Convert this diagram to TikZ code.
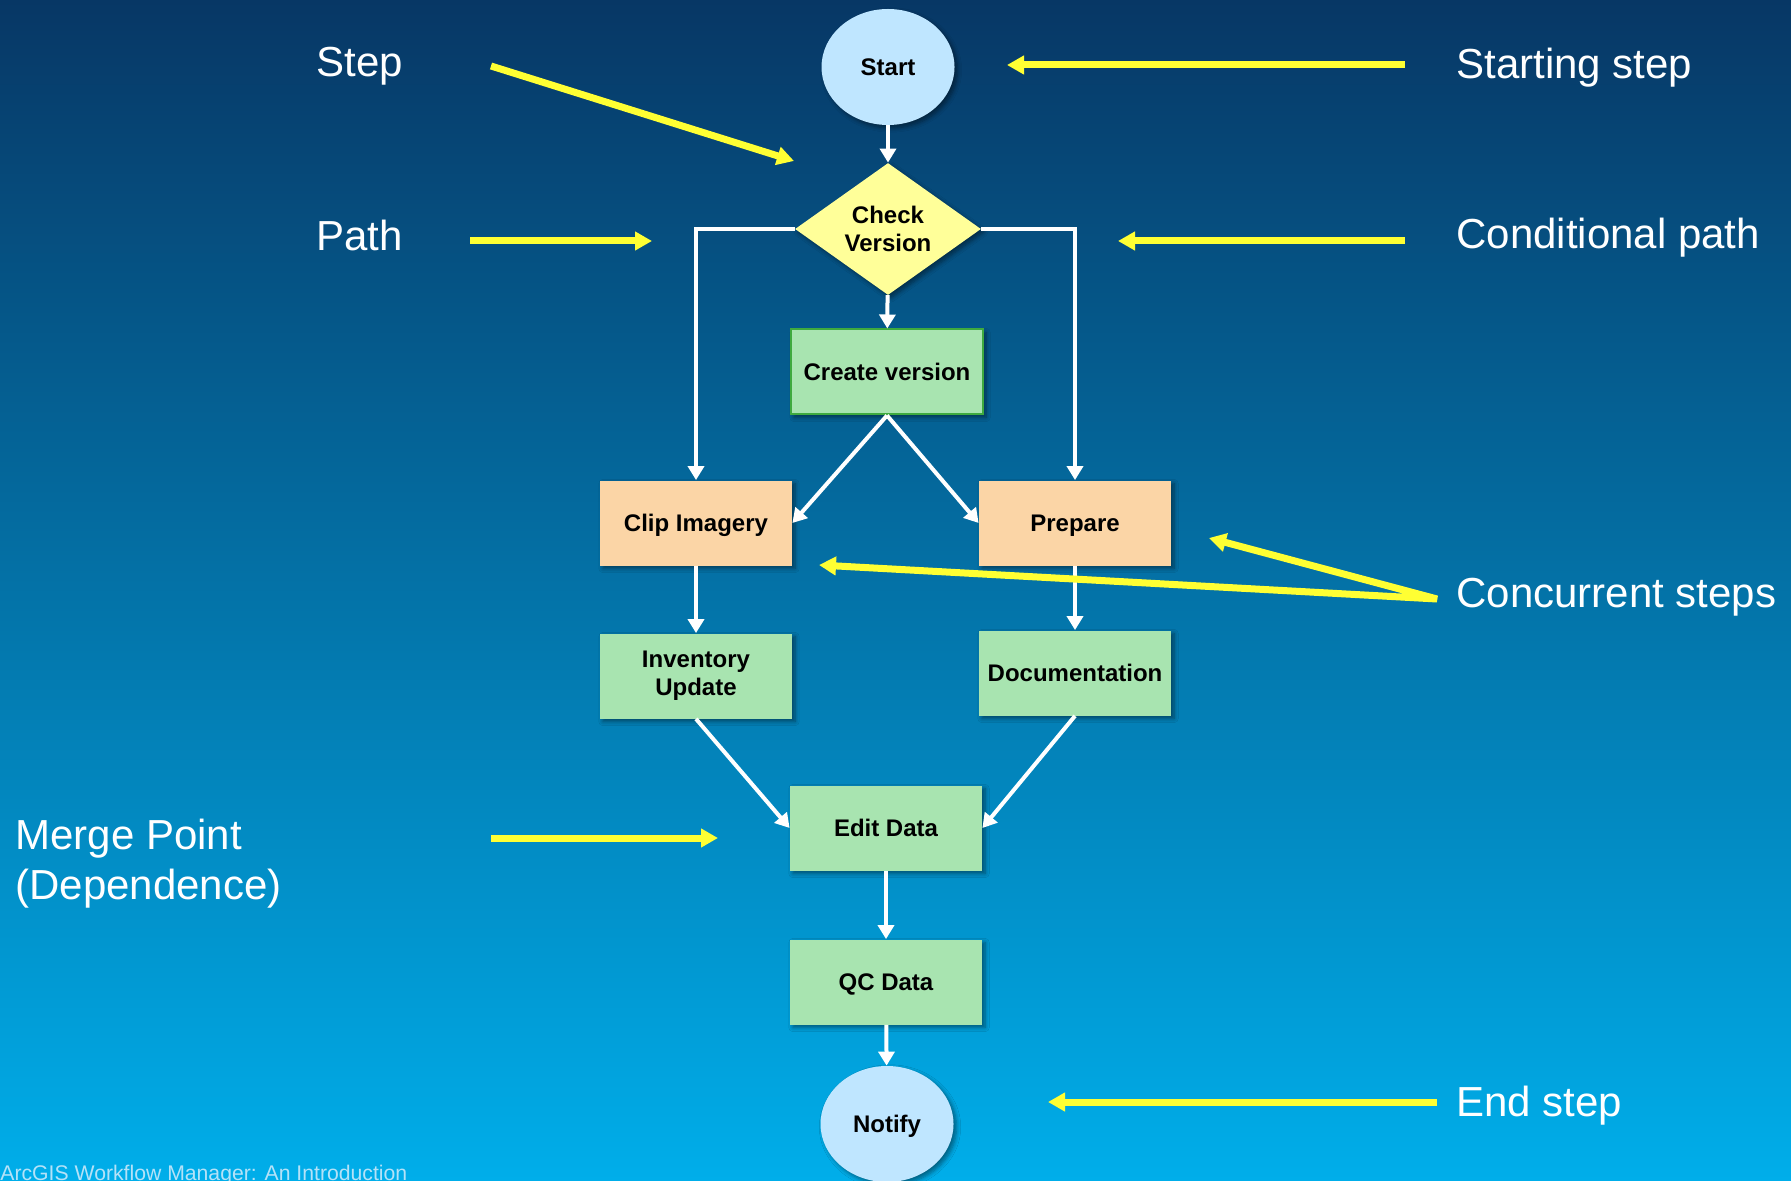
\documentclass[tikz,border=0pt]{standalone}
\usepackage{fontspec}
\setmainfont{Liberation Sans}
\usetikzlibrary{arrows.meta,shapes.geometric,shadows.blur}
\definecolor{bgtop}{HTML}{073765}
\definecolor{bgmid}{HTML}{0567AB}
\definecolor{bgbot}{HTML}{00AEEA}
\definecolor{ellblue}{HTML}{BFE6FF}
\definecolor{diayellow}{HTML}{FFFF99}
\definecolor{boxgreen}{HTML}{A8E4B0}
\definecolor{boxorange}{HTML}{FBD5A6}
\definecolor{greenedge}{HTML}{3FAA3F}
\definecolor{callyellow}{HTML}{FFFF33}
\definecolor{footcol}{HTML}{B4E2F8}
\begin{document}
\begin{tikzpicture}[x=0.5pt,y=-0.5pt,
  shadowed/.style={blur shadow={shadow xshift=1.5pt,shadow yshift=-1.5pt,shadow blur steps=6,shadow opacity=45}},
  oneline/.style={text height=11pt,text depth=2.3pt},
  stepbox/.style={rectangle,minimum width=96pt,minimum height=42.5pt,inner sep=0pt,
    font=\bfseries\fontsize{12}{14}\selectfont,align=center,text=black,shadowed},
  greenbox/.style={stepbox,fill=boxgreen},
  orangebox/.style={stepbox,fill=boxorange},
  endnode/.style={ellipse,fill=ellblue,minimum width=66.5pt,minimum height=58pt,inner sep=0pt,
    font=\bfseries\fontsize{12}{14}\selectfont,text=black,shadowed,oneline},
  decision/.style={diamond,fill=diayellow,aspect=1.41,minimum width=93pt,minimum height=66pt,inner sep=0pt,
    font=\bfseries\fontsize{12}{14}\selectfont,align=center,text=black,shadowed},
  flow/.style={draw=white,line width=2pt,-{Triangle[length=7pt,width=8pt]}},
  callout/.style={draw=callyellow,line width=3.5pt,-{Triangle[length=8.5pt,width=9pt]}},
  biglabel/.style={font=\fontsize{21}{25}\selectfont,text=white,inner sep=0pt,anchor=base west}
]
\useasboundingbox (0,0) rectangle (1791,1181);
\shade[top color=bgtop,middle color=bgmid,bottom color=bgbot] (0,0) rectangle (1791,1181);

% nodes
\node[endnode] (start) at (888,67) {Start};
\node[decision] (check) at (888,229) {Check\\Version};
\node[greenbox,oneline,draw=greenedge,line width=1pt] (create) at (887,372) {Create version};
\node[orangebox,oneline] (clip) at (696,523) {Clip Imagery};
\node[orangebox,oneline] (prep) at (1075,523) {Prepare};
\node[greenbox] (inv) at (696,676) {Inventory\\Update};
\node[greenbox,oneline] (doc) at (1075,673) {Documentation};
\node[greenbox,oneline] (edit) at (886,828) {Edit Data};
\node[greenbox,oneline] (qc) at (886,982) {QC Data};
\node[endnode] (notify) at (887,1124) {Notify};

% connectors
\draw[flow] (start) -- (check);
\draw[flow] (check) -- (create);
\draw[flow] (check.west) -| (clip.north);
\draw[flow] (check.east) -| (prep.north);
\draw[flow] (create.south) -- (clip.east);
\draw[flow] (create.south) -- (prep.west);
\draw[flow] (clip) -- (inv);
\draw[flow] (prep) -- (doc);
\draw[flow] (inv.south) -- (edit.west);
\draw[flow] (doc.south) -- (edit.east);
\draw[flow] (edit) -- (qc);
\draw[flow] (qc) -- (notify);

% labels
\node[biglabel] (lstep) at (316,77) {Step};
\node[biglabel] (lpath) at (316,251) {Path};
\node[biglabel] (lmerge1) at (15,849) {Merge Point};
\node[biglabel] (lmerge2) at (15,899) {(Dependence)};
\node[biglabel] (lstart) at (1456,79) {Starting step};
\node[biglabel] (lcond) at (1456,249) {Conditional path};
\node[biglabel] (lconc) at (1456,607) {Concurrent steps};
\node[biglabel] (lend) at (1456,1116) {End step};
\node[font=\fontsize{10.6}{12}\selectfont,text=footcol,inner sep=0pt,anchor=base west] (footer) at (0,1180) {ArcGIS Workflow Manager: An Introduction};

% callout arrows
\coordinate (a1s) at (491,66);   \coordinate (a1e) at (794,161);
\coordinate (a2s) at (1405,65);  \coordinate (a2e) at (1007,65);
\coordinate (a3s) at (470,241);  \coordinate (a3e) at (652,241);
\coordinate (a4s) at (1405,241); \coordinate (a4e) at (1118,241);
\coordinate (a5v) at (1437,599); \coordinate (a5a) at (1209,538); \coordinate (a5b) at (819,565);
\coordinate (a6s) at (1437,1102); \coordinate (a6e) at (1048,1102);
\coordinate (a7s) at (491,838);  \coordinate (a7e) at (718,838);

\draw[callout] (a1s) -- (a1e);
\draw[callout] (a2s) -- (a2e);
\draw[callout] (a3s) -- (a3e);
\draw[callout] (a4s) -- (a4e);
\draw[callout,{Triangle[length=8.5pt,width=9pt]}-{Triangle[length=8.5pt,width=9pt]},line join=bevel] (a5a) -- (a5v) -- (a5b);
\draw[callout] (a6s) -- (a6e);
\draw[callout] (a7s) -- (a7e);
\end{tikzpicture}
\end{document}
